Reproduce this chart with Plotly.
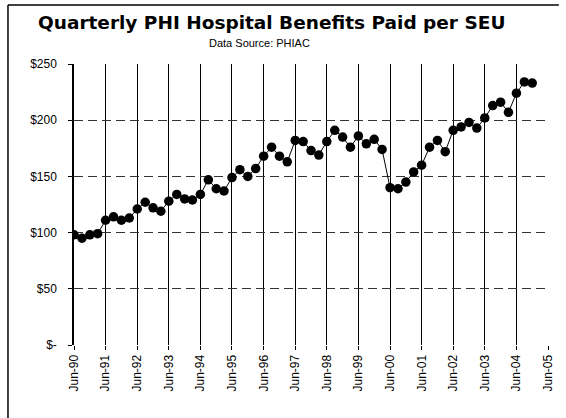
import plotly.graph_objects as go
import pandas as pd

# Quarterly dates (Jun-90 .. Dec-04)
quarters = pd.date_range(start="1990-06-01", periods=59, freq="3MS")
benefits = [
    98, 95, 98, 99,
    111, 114, 111, 113,
    121, 127, 122, 119,
    128, 134, 130, 129,
    134, 147, 139, 137,
    149, 156, 150, 157,
    168, 176, 168, 163,
    182, 181, 173, 169,
    181, 191, 185, 176,
    186, 179, 183, 174,
    140, 139, 145, 154,
    160, 176, 182, 172,
    191, 194, 198, 193,
    202, 213, 216, 207,
    224, 234, 233,
]
y_tickvals = [0, 50, 100, 150, 200, 250]
y_ticktext = ["$-", "$50", "$100", "$150", "$200", "$250"]

title_text = "Quarterly PHI Hospital Benefits Paid per SEU"
subtitle_text = "Data Source: PHIAC"

fig = go.Figure()
fig.add_trace(go.Scatter(
    x=quarters, y=benefits, mode="lines+markers",
    line=dict(color="black", width=1),
    marker=dict(color="black", size=9.5),
    cliponaxis=True, showlegend=False,
))

fx = lambda px: (px - 74) / 481
fy = lambda py: (345 - py) / 281

fig.update_layout(
    width=566, height=418,
    margin=dict(l=74, r=11, t=64, b=73),
    paper_bgcolor="white", plot_bgcolor="white",
    font=dict(family="Liberation Sans, Arial", color="black", size=12),
    xaxis=dict(
        range=["1990-06-01", "2005-06-01"],
        tick0="1990-06-01", dtick="M12", tickformat="%b-%y",
        tickangle=-90, ticks="outside", ticklen=4, tickcolor="black",
        showgrid=True, gridcolor="black", gridwidth=1,
        showline=False, zeroline=False,
        tickfont=dict(size=12, family="Liberation Sans, Arial"),
    ),
    yaxis=dict(
        range=[0, 250], tickvals=y_tickvals, ticktext=y_ticktext,
        ticks="outside", ticklen=4, tickcolor="black", ticklabelstandoff=9,
        showgrid=True, gridcolor="#333333", gridwidth=1, griddash="9px,5px",
        showline=True, linecolor="black", linewidth=1.5,
        zeroline=False,
        tickfont=dict(size=12, family="Liberation Sans, Arial"),
    ),
    annotations=[
        dict(text="<b>" + title_text + "</b>", xref="paper", yref="paper",
             x=fx(274), y=fy(22), xanchor="center", yanchor="middle",
             showarrow=False, font=dict(family="DejaVu Sans", size=18.5, color="black")),
        dict(text=subtitle_text, xref="paper", yref="paper",
             x=fx(262), y=fy(43), xanchor="center", yanchor="middle",
             showarrow=False, font=dict(family="Liberation Sans, Arial", size=11, color="black")),
    ],
    shapes=[
        dict(type="line", xref="paper", yref="paper",
             x0=fx(7), x1=fx(566), y0=fy(5), y1=fy(5),
             line=dict(color="black", width=1.5), layer="below"),
        dict(type="line", xref="paper", yref="paper",
             x0=fx(7), x1=fx(7), y0=fy(5), y1=fy(418),
             line=dict(color="black", width=1.5), layer="below"),
    ],
)

fig.write_html("out.html", config={"displayModeBar": False},
               post_script="document.body.style.margin='0px';")
